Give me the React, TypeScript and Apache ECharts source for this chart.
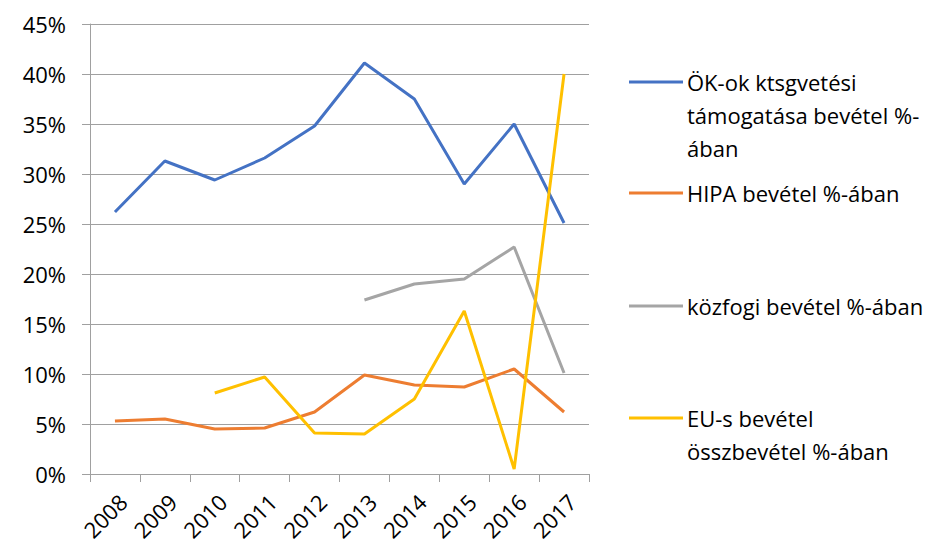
import React, { useEffect, useRef } from "react";
import * as echarts from "echarts";

const years = ["2008", "2009", "2010", "2011", "2012", "2013", "2014", "2015", "2016", "2017"];
const seriesNames = [
  "ÖK-ok ktsgvetési támogatása bevétel %-ában",
  "HIPA bevétel %-ában",
  "közfogi bevétel %-ában",
  "EU-s bevétel összbevétel %-ában",
];
const legendLines = [
  "ÖK-ok ktsgvetési\ntámogatása bevétel %-\nában",
  "HIPA bevétel %-ában",
  "közfogi bevétel %-ában",
  "EU-s bevétel\nösszbevétel %-ában",
];
const colors = ["#4472C4", "#ED7D31", "#A5A5A5", "#FFC000"];
const okValues = [26.2, 31.3, 29.4, 31.6, 34.8, 41.1, 37.5, 29.0, 35.0, 25.1];
const hipaValues = [5.3, 5.5, 4.5, 4.6, 6.2, 9.9, 8.9, 8.7, 10.5, 6.2];
const kozfogiValues = [null, null, null, null, null, 17.4, 19.0, 19.5, 22.7, 10.1];
const euValues = [null, null, 8.1, 9.7, 4.1, 4.0, 7.5, 16.3, 0.5, 40.0];
const yTicks = { min: 0, max: 45, interval: 5 };

const FONT = "Open Sans";
const FS = 22;

export default function App() {
  const ref = useRef<HTMLDivElement>(null);
  useEffect(() => {
    if (!ref.current) return;
    const chart = echarts.init(ref.current, null, { renderer: "svg" });
    const data = [okValues, hipaValues, kozfogiValues, euValues];
    const legendY = [82, 193, 306, 418];
    const graphic: any[] = [];
    seriesNames.forEach((_, i) => {
      graphic.push({
        type: "line",
        shape: { x1: 629, y1: legendY[i], x2: 683, y2: legendY[i] },
        style: { stroke: colors[i], lineWidth: 3 },
      });
      graphic.push({
        type: "text",
        x: 687,
        y: legendY[i] - 16.5,
        style: {
          text: legendLines[i],
          fill: "#000",
          fontFamily: FONT,
          fontSize: FS,
          lineHeight: 33,
          verticalAlign: "top",
          align: "left",
        },
      });
    });
    chart.setOption({
      animation: false,
      grid: { left: 90, right: 357, top: 24, bottom: 76, containLabel: false },
      xAxis: {
        type: "category",
        data: years,
        boundaryGap: true,
        axisLine: { show: true, lineStyle: { color: "#A0A0A0", width: 1 } },
        axisTick: { show: true, length: 8, alignWithLabel: false, lineStyle: { color: "#A0A0A0" } },
        axisLabel: {
          rotate: 45,
          margin: 16,
          color: "#000",
          fontFamily: FONT,
          fontSize: FS,
          interval: 0,
          verticalAlign: "top",
        },
      },
      yAxis: {
        type: "value",
        min: yTicks.min,
        max: yTicks.max,
        interval: yTicks.interval,
        axisLine: { show: true, lineStyle: { color: "#A0A0A0", width: 1 } },
        axisTick: { show: true, length: 8, lineStyle: { color: "#A0A0A0" } },
        splitLine: { show: true, lineStyle: { color: "#A0A0A0", width: 1 } },
        axisLabel: {
          formatter: "{value}%",
          margin: 24,
          color: "#000",
          fontFamily: FONT,
          fontSize: FS,
        },
      },
      series: seriesNames.map((name, i) => ({
        name,
        type: "line",
        data: data[i],
        symbol: "none",
        connectNulls: false,
        lineStyle: { color: colors[i], width: 3 },
        itemStyle: { color: colors[i] },
      })),
      graphic,
    });
    return () => chart.dispose();
  }, []);
  return <div ref={ref} style={{ width: 946, height: 550, position: "absolute", left: 0, top: 0 }} />;
}
